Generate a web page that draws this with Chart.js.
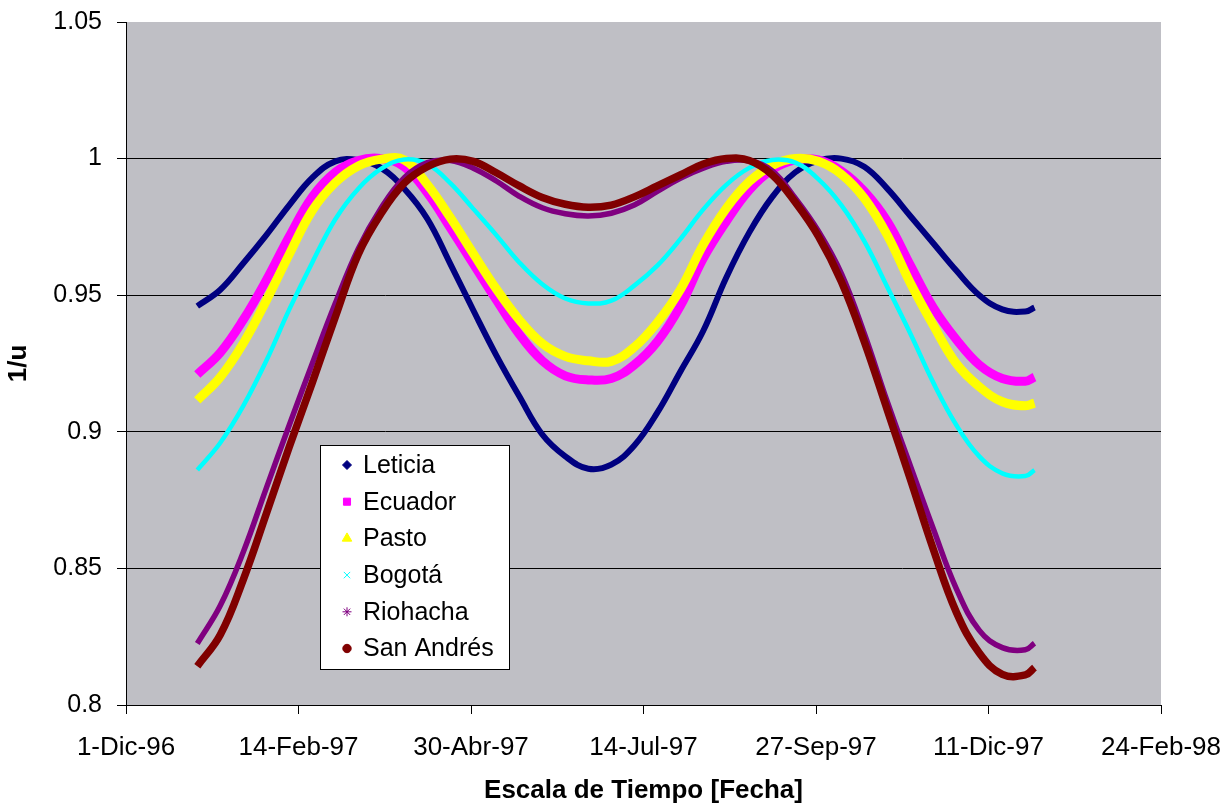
<!DOCTYPE html>
<html>
<head>
<meta charset="utf-8">
<script src="https://cdn.jsdelivr.net/npm/chart.js@4/dist/chart.umd.min.js"></script>
<style>
  html, body { margin: 0; padding: 0; background: #fff; }
  #wrap { width: 1231px; height: 804px; }
</style>
</head>
<body>
<div id="wrap"><canvas id="chart" width="1231" height="804"></canvas></div>
<script>
// 1/u through 1997 for six Colombian sites

// === data ===
// x = days counted from 1-Dic-96
const xTickLabels = ["1-Dic-96", "14-Feb-97", "30-Abr-97", "14-Jul-97", "27-Sep-97", "11-Dic-97", "24-Feb-98"];
const yTickLabels = ["0.8", "0.85", "0.9", "0.95", "1", "1.05"];

const sampleDays = [31, 41, 51, 61, 71, 81, 91, 101, 111, 121, 131, 141, 151, 161, 171, 181, 191, 201, 211,
    221, 231, 241, 251, 261, 271, 281, 291, 301, 311, 321, 331, 341, 351, 361, 371, 381, 391, 395];

const seriesNames = ["Leticia", "Ecuador", "Pasto", "Bogotá", "Riohacha", "San Andrés"];

const leticia = [0.946, 0.952, 0.9617, 0.972, 0.983, 0.993, 0.999, 0.9995, 0.9965, 0.989, 0.978, 0.9615, 0.9445,
    0.928, 0.913, 0.899, 0.891, 0.8865, 0.888, 0.895, 0.907, 0.922, 0.937, 0.9565, 0.973, 0.986, 0.995, 0.9993,
    1.0, 0.997, 0.989, 0.979, 0.969, 0.959, 0.950, 0.9448, 0.944, 0.9455];
const ecuador = [0.921, 0.929, 0.941, 0.9555, 0.9715, 0.986, 0.995, 0.9993, 1.0, 0.997, 0.9875, 0.9747, 0.9615,
    0.9483, 0.9357, 0.926, 0.9205, 0.919, 0.9195, 0.9245, 0.933, 0.946, 0.9635, 0.977, 0.9885, 0.996, 0.9995,
    0.9995, 0.9955, 0.988, 0.977, 0.961, 0.9455, 0.9338, 0.9245, 0.9195, 0.9185, 0.920];
const pasto = [0.9115, 0.920, 0.9324, 0.948, 0.965, 0.981, 0.9912, 0.9973, 0.9998, 0.9995, 0.9905, 0.9784, 0.9652,
    0.9523, 0.941, 0.9323, 0.9276, 0.926, 0.9258, 0.931, 0.940, 0.952, 0.9685, 0.9818, 0.9916, 0.9975, 1.0, 0.999,
    0.9943, 0.9855, 0.972, 0.9545, 0.939, 0.925, 0.9165, 0.911, 0.9095, 0.9105];
const bogota = [0.886, 0.896, 0.9095, 0.926, 0.9448, 0.962, 0.9778, 0.989, 0.9963, 0.9997, 0.998, 0.991, 0.9816,
    0.972, 0.962, 0.954, 0.9488, 0.947, 0.948, 0.9535, 0.9608, 0.9705, 0.9814, 0.9904, 0.9966, 0.9995, 0.9985,
    0.9925, 0.983, 0.9698, 0.953, 0.936, 0.918, 0.9025, 0.891, 0.8848, 0.8838, 0.886];
const riohacha = [0.8225, 0.8364, 0.856, 0.8794, 0.9025, 0.925, 0.947, 0.967, 0.982, 0.993, 0.9985, 0.9993, 0.9965,
    0.9918, 0.9862, 0.982, 0.9798, 0.979, 0.980, 0.983, 0.988, 0.9928, 0.9965, 0.999, 0.9992, 0.9955, 0.9855,
    0.9735, 0.958, 0.936, 0.911, 0.8876, 0.8645, 0.8426, 0.8273, 0.821, 0.8202, 0.8226];
const sanAndres = [0.8142, 0.8257, 0.8459, 0.870, 0.8945, 0.918, 0.942, 0.965, 0.980, 0.991, 0.997, 0.9998, 0.999,
    0.9948, 0.990, 0.9858, 0.9833, 0.9822, 0.983, 0.986, 0.990, 0.994, 0.998, 1.0, 0.9993, 0.994, 0.984, 0.9716,
    0.955, 0.933, 0.908, 0.8827, 0.857, 0.834, 0.819, 0.8112, 0.811, 0.8137];

const seriesValues = [leticia, ecuador, pasto, bogota, riohacha, sanAndres];

// === styles ===
const colors = ["#000080", "#ff00ff", "#ffff00", "#00ffff", "#800080", "#800000"];
const markers = ["rectRot", "rect", "triangle", "crossRot", "star", "circle"];
const markerSizes = [4.5, 5, 5.5, 4.5, 4.5, 4.2];
const bandWidths = [6, 9, 9, 4.5, 5.5, 7.5];

const FONT = "'Liberation Sans', Arial, sans-serif";

function buildDatasets() {
    return seriesNames.map((name, i) => ({
        label: name,
        data: sampleDays.map((d, k) => ({ x: d, y: seriesValues[i][k] })),
        showLine: true,
        borderColor: colors[i],
        backgroundColor: colors[i],
        borderWidth: bandWidths[i],
        pointRadius: 0,
        pointHoverRadius: 0,
        tension: 0.4,
        pointStyle: markers[i],
        order: seriesNames.length - i // later series on top, like the original
    }));
}

// grey plot area
const plotBackground = {
    id: "plotBackground",
    beforeDraw(chart) {
        const { ctx, chartArea: a } = chart;
        ctx.save();
        ctx.fillStyle = "#bfbfc5";
        ctx.fillRect(a.left, a.top, a.right - a.left, a.bottom - a.top);
        ctx.restore();
    }
};

// legend box sitting inside the plot
const insideLegend = {
    id: "insideLegend",
    afterDraw(chart) {
        const ctx = chart.ctx;
        const box = { x: 320.5, y: 445.5, w: 189, h: 224 };
        ctx.save();
        ctx.fillStyle = "#ffffff";
        ctx.fillRect(box.x, box.y, box.w, box.h);
        ctx.strokeStyle = "#000000";
        ctx.lineWidth = 1;
        ctx.strokeRect(box.x, box.y, box.w, box.h);

        ctx.font = "25px " + FONT;
        ctx.textBaseline = "middle";
        ctx.textAlign = "left";
        seriesNames.forEach((name, i) => {
            const y = 465 + i * 36.7;
            ctx.fillStyle = colors[i];
            ctx.strokeStyle = colors[i];
            Chart.helpers.drawPoint(ctx, {
                pointStyle: markers[i],
                radius: markerSizes[i],
                rotation: 0,
                borderWidth: 1.5
            }, 347, y);
            ctx.fillStyle = "#000000";
            ctx.fillText(name, 363, y + 1);
        });
        ctx.restore();
    }
};

const chartConfig = {
    type: "scatter",
    data: { datasets: buildDatasets() },
    options: {
        responsive: false,
        animation: false,
        events: [],
        layout: { padding: { top: 22, right: 70, left: 0, bottom: 0 } },
        plugins: {
            legend: { display: false },
            tooltip: { enabled: false }
        },
        scales: {
            x: {
                type: "linear",
                min: 0,
                max: 450,
                afterFit: s => {
                    s.height = 99;
                    s.paddingLeft = 0;   // labels may hang over the layout padding
                    s.paddingRight = 0;
                },
                afterBuildTicks: s => {
                    s.ticks = xTickLabels.map((_, i) => ({ value: i * 75 }));
                },
                ticks: {
                    autoSkip: false,
                    maxRotation: 0,
                    padding: 18,
                    color: "#000",
                    font: { family: FONT, size: 26 },
                    callback: (v) => xTickLabels[Math.round(v / 75)]
                },
                grid: {
                    drawOnChartArea: false,
                    tickLength: 9,
                    tickColor: "#000",
                    tickWidth: 1
                },
                border: { color: "#000", width: 1 },
                title: {
                    display: true,
                    text: "Escala de Tiempo [Fecha]",
                    color: "#000",
                    font: { family: FONT, size: 26, weight: "bold", lineHeight: 1.0 },
                    padding: { top: 0, bottom: 0 }
                }
            },
            y: {
                min: 0.8,
                max: 1.05,
                afterFit: s => {
                    s.width = 126;
                    s.paddingTop = 0;
                    s.paddingBottom = 0;
                },
                afterBuildTicks: s => {
                    s.ticks = yTickLabels.map((_, i) => ({ value: 0.8 + i * 0.05 }));
                },
                ticks: {
                    padding: 15,
                    color: "#000",
                    font: { family: FONT, size: 25 },
                    callback: (v) => yTickLabels[Math.round((v - 0.8) / 0.05)]
                },
                grid: {
                    color: c => (c.tick && Math.abs(c.tick.value - 1.05) < 1e-6) ? "rgba(0,0,0,0)" : "#000",
                    lineWidth: 1,
                    tickLength: 9,
                    tickColor: "#000"
                },
                border: { color: "#000", width: 1 },
                title: {
                    display: true,
                    text: "1/u",
                    color: "#000",
                    font: { family: FONT, size: 26, weight: "bold" },
                    padding: { top: 3, bottom: 0 }
                }
            }
        }
    },
    plugins: [plotBackground, insideLegend]
};

const chart = new Chart(document.getElementById("chart").getContext("2d"), chartConfig);
</script>
</body>
</html>
